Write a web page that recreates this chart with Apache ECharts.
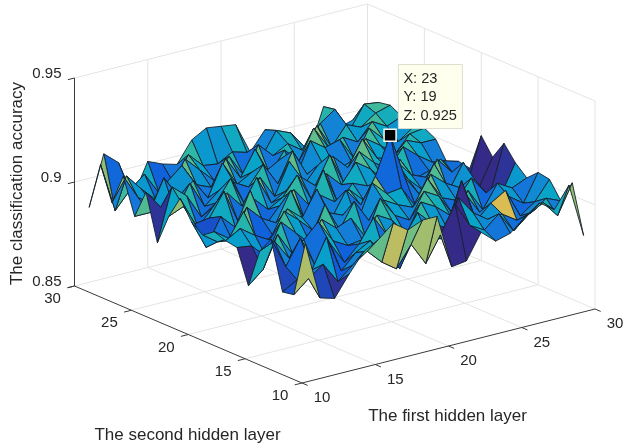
<!DOCTYPE html>
<html><head><meta charset="utf-8">
<style>html,body{margin:0;padding:0;background:#fff}#c{width:624px;height:448px}</style>
<script src="https://cdn.jsdelivr.net/npm/echarts@6/dist/echarts.min.js"></script></head>
<body><div id="c"></div>
<script>
const firstHidden=[11,12,13,14,15,16,17,18,19,20,21,22,23,24,25,26,27,28,29,30];
const secondHidden=[11,12,13,14,15,16,17,18,19,20,21,22,23,24,25,26,27,28,29,30];
const xTicks=[10,15,20,25,30];
const yTicks=[10,15,20,25,30];
const zTicks=[0.85,0.9,0.95];
const accuracy=[
[.913,.886,.885,.908,.900,.881,.897,.898,.900,.896,.900,.909,.898,.883,.905,.891,.908,.893,.909,.886],
[.885,.892,.889,.893,.903,.887,.896,.902,.895,.891,.886,.895,.901,.908,.896,.891,.896,.904,.885,.910],
[.883,.897,.892,.905,.893,.902,.889,.897,.906,.890,.899,.896,.889,.902,.892,.906,.891,.896,.893,.904],
[.893,.887,.906,.890,.900,.891,.904,.893,.888,.904,.892,.907,.897,.890,.904,.895,.900,.889,.899,.886],
[.902,.893,.888,.899,.907,.893,.897,.905,.891,.897,.908,.890,.902,.895,.891,.901,.906,.893,.888,.901],
[.906,.898,.895,.888,.896,.904,.890,.899,.902,.893,.889,.900,.894,.905,.897,.891,.895,.905,.891,.898],
[.912,.891,.899,.895,.892,.898,.907,.892,.896,.907,.897,.893,.906,.890,.899,.906,.892,.898,.903,.896],
[.907,.886,.890,.906,.893,.901,.893,.899,.908,.890,.903,.897,.892,.902,.895,.894,.904,.891,.896,.906],
[.910,.896,.882,.895,.903,.890,.905,.896,.892,.901,.894,.906,.896,.891,.904,.898,.893,.901,.895,.910],
[.910,.885,.898,.892,.899,.907,.894,.891,.904,.896,.909,.892,.901,.906,.893,.897,.905,.890,.899,.909],
[.884,.897,.893,.903,.890,.897,.902,.908,.895,.900,.891,.903,.895,.893,.907,.901,.891,.903,.897,.908],
[.885,.910,.891,.896,.904,.893,.898,.901,.907,.893,.899,.896,.908,.901,.894,.890,.901,.896,.893,.893],
[.897,.898,.909,.892,.900,.905,.895,.902,.925,.900,.896,.905,.892,.903,.898,.906,.894,.900,.904,.902],
[.891,.894,.900,.913,.894,.901,.907,.891,.903,.908,.895,.900,.906,.896,.892,.901,.908,.895,.901,.899],
[.893,.900,.895,.892,.903,.890,.896,.905,.893,.898,.904,.892,.899,.908,.895,.903,.897,.905,.892,.891],
[.899,.890,.8957,.8987,.892,.900,.893,.899,.906,.891,.896,.901,.894,.897,.904,.892,.900,.893,.902,.886],
[.904,.896,.891,.903,.894,.889,.902,.895,.891,.904,.893,.890,.903,.895,.899,.905,.896,.902,.907,.906],
[.899,.900,.893,.889,.896,.900,.893,.897,.903,.896,.900,.892,.897,.902,.893,.898,.904,.899,.895,.894],
[.909,.892,.898,.894,.891,.896,.890,.887,.888,.887,.890,.895,.892,.899,.901,.895,.900,.904,.906,.896],
[.883,.906,.895,.903,.904,.899,.904,.911,.902,.910,.892,.893,.890,.899,.902,.900,.903,.906,.905,.899]
];
// facets whose printed colour differs from the height of their front corner: x, y, colour value
const colourOverrides=[[26,13,.9145],[22,12,.882],[23,13,.882],[22,13,.882],[21,11,.882],[22,11,.882],[11,14,.888],[12,29,.889],[11,11,.911],[22,18,.889],[23,18,.888],[29,17,.883],[29,18,.882],[29,19,.882],[29,20,.883]];
const markedX=23, markedY=19, markedZ=0.925;
const xTitle='The first hidden layer', yTitle='The second hidden layer', zTitle='The classification accuracy';

// orthographic MATLAB-style view
function proj(x,y,z){
  return [302+14.65*(x-10)-11.375*(y-10), 383-3.7*(x-10)-4.85*(y-10)-(z-0.85)*2080];
}
const stops=[[53,42,135],[15,92,221],[20,129,214],[6,164,202],[46,183,164],[135,191,119],[209,187,89],[254,200,50],[249,251,14]];
function parula(z){
  let t=Math.max(0,Math.min(1,(z-0.882)/0.042))*(stops.length-1);
  let i=Math.min(stops.length-2,Math.floor(t)),f=t-i;
  const c=stops[i].map((v,k)=>Math.round(v+(stops[i+1][k]-v)*f));
  return 'rgb('+c.join(',')+')';
}
const overrideMap={};
colourOverrides.forEach(o=>{overrideMap[o[0]+'_'+o[1]]=o[2]});
const FONT='"Liberation Sans",Arial,sans-serif', TXT='#262626';
const zMin=zTicks[0], zMax=zTicks[2], lo=10, hi=30;

const gridSegs=[], axisSegs=[];
[15,20,25].forEach(v=>{
  gridSegs.push([[v,lo,zMin],[v,hi,zMin]],[[lo,v,zMin],[hi,v,zMin]]);
  gridSegs.push([[v,hi,zMin],[v,hi,zMax]],[[hi,v,zMin],[hi,v,zMax]]);
});
gridSegs.push([[lo,hi,0.9],[hi,hi,0.9]],[[hi,lo,0.9],[hi,hi,0.9]]);
gridSegs.push([[lo,hi,zMax],[hi,hi,zMax]],[[hi,lo,zMax],[hi,hi,zMax]]);
gridSegs.push([[hi,hi,zMin],[hi,hi,zMax]],[[hi,lo,zMin],[hi,lo,zMax]]);
gridSegs.push([[lo,hi,zMin],[hi,hi,zMin]],[[hi,lo,zMin],[hi,hi,zMin]]);
axisSegs.push([[lo,hi,zMin],[lo,hi,zMax]],[[lo,lo,zMin],[hi,lo,zMin]],[[lo,lo,zMin],[lo,hi,zMin]]);
xTicks.forEach(v=>axisSegs.push([[v,lo,zMin],[v,lo-0.5,zMin]]));
yTicks.forEach(v=>axisSegs.push([[lo,v,zMin],[lo-0.5,v,zMin]]));
zTicks.forEach(v=>axisSegs.push([[lo,hi,v],[lo-0.45,hi,v]]));

const facets=[];
for(let i=0;i<firstHidden.length-1;i++)for(let j=0;j<secondHidden.length-1;j++)facets.push([i,j]);
facets.sort((p,q)=>(q[0]+q[1])-(p[0]+p[1]));

function segSeries(segs,color,width,z){
  return {type:'custom',coordinateSystem:'cartesian2d',animation:false,silent:true,progressive:0,z,
    data:segs.map((s,i)=>[i]),
    renderItem(p,api){
      const s=segs[p.dataIndex];
      const a=api.coord(proj(...s[0])),b=api.coord(proj(...s[1]));
      return {type:'line',shape:{x1:a[0],y1:a[1],x2:b[0],y2:b[1]},style:{stroke:color,lineWidth:width}};
    }};
}
const labels=[];
xTicks.forEach(v=>{const p=proj(v,lo,zMin);labels.push({t:String(v),x:p[0]+20,y:p[1]+15,a:'center',s:15})});
yTicks.forEach(v=>{const p=proj(lo,v,zMin);labels.push({t:String(v),x:p[0]-22,y:p[1]+13,a:'center',s:15})});
zTicks.forEach(v=>{const p=proj(lo,hi,v);labels.push({t:String(v),x:p[0]-13,y:p[1]-4.5,a:'right',s:15})});
labels.push({t:xTitle,x:447.5,y:416,a:'center',s:17});
labels.push({t:yTitle,x:187.5,y:435,a:'center',s:17});
labels.push({t:zTitle,x:17,y:183.5,a:'center',s:17,r:Math.PI/2});
const tipLines=['X: '+markedX,'Y: '+markedY,'Z: '+markedZ];

const option={
  animation:false,
  grid:{left:0,top:0,width:624,height:448,show:false},
  xAxis:{type:'value',min:0,max:624,show:false},
  yAxis:{type:'value',min:0,max:448,inverse:true,show:false},
  series:[
    segSeries(gridSegs,'#e4e4e4',1,1),
    segSeries(axisSegs,'#3a3a3a',1,2),
    {type:'custom',coordinateSystem:'cartesian2d',animation:false,silent:true,progressive:0,z:3,
     data:facets,
     renderItem(p,api){
       const [i,j]=facets[p.dataIndex];
       const pt=(a,b)=>api.coord(proj(firstHidden[a],secondHidden[b],accuracy[a][b]));
       const ov=overrideMap[firstHidden[i]+'_'+secondHidden[j]];
       return {type:'polygon',shape:{points:[pt(i,j),pt(i+1,j),pt(i+1,j+1),pt(i,j+1)]},
         style:{fill:parula(ov!==undefined?ov:accuracy[i][j]),stroke:'#14202a',lineWidth:0.9,lineJoin:'round'}};
     }},
    {type:'custom',coordinateSystem:'cartesian2d',animation:false,silent:true,progressive:0,z:4,
     data:labels.map((l,i)=>[i]),
     renderItem(p,api){
       const l=labels[p.dataIndex];const c=api.coord([l.x,l.y]);
       return {type:'text',x:c[0],y:c[1],rotation:l.r||0,
         style:{text:l.t,fill:TXT,font:l.s+'px '+FONT,textAlign:l.a,textVerticalAlign:'middle'}};
     }},
    {type:'custom',coordinateSystem:'cartesian2d',animation:false,silent:true,progressive:0,z:5,
     data:[[markedX,markedY,markedZ]],
     renderItem(p,api){
       const m=api.coord(proj(api.value(0),api.value(1),api.value(2)));
       const left=m[0]+8.3,top=m[1]-70.7;
       return {type:'group',children:[
         {type:'rect',shape:{x:left,y:top,width:64,height:64},style:{fill:'#ffffee',stroke:'#dfdfd0',lineWidth:1}},
         ...tipLines.map((t,i)=>({type:'text',x:left+5,y:top+14+18.6*i,style:{text:t,fill:TXT,font:'14.6px '+FONT,textAlign:'left',textVerticalAlign:'middle'}})),
         {type:'rect',shape:{x:m[0]-6,y:m[1]-6,width:12,height:12},style:{fill:'#000',stroke:'#fdfdf0',lineWidth:1.5}}
       ]};
     }}
  ]
};
const chart=echarts.init(document.getElementById('c'),null,{renderer:'canvas'});
chart.setOption(option);
</script></body></html>
